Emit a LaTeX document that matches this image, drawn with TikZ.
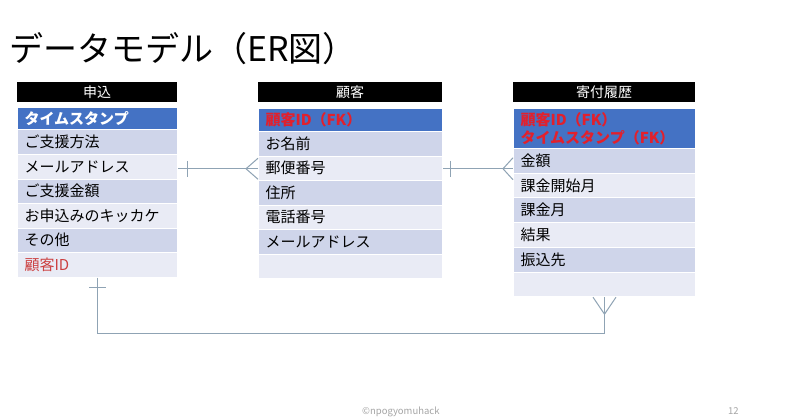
\documentclass[tikz,border=0pt]{standalone}
\usepackage{fontspec}
\usetikzlibrary{calc}
\setmainfont{Noto Sans CJK JP}
\begin{document}
\begin{tikzpicture}[x=1pt,y=-1pt]
\definecolor{hdrblue}{RGB}{68,114,196}
\definecolor{rowdark}{RGB}{207,213,234}
\definecolor{rowlight}{RGB}{233,235,245}
\definecolor{fkred}{RGB}{226,32,44}
\definecolor{idred}{RGB}{204,64,64}
\definecolor{conn}{RGB}{143,163,180}
\definecolor{foot}{RGB}{165,165,165}
\tikzset{
  hdr/.style={fill=black, text=white, inner xsep=0, inner ysep=0, minimum height=20, anchor=north west, align=center, font=\fontsize{14}{14}\selectfont},
  cell/.style={draw=white, line width=1, inner xsep=7, inner ysep=0, anchor=north west, align=left, font=\fontsize{15}{18}\selectfont},
  keycell/.style={cell, fill=hdrblue, font=\fontsize{15}{18}\bfseries\selectfont},
  dk/.style={cell, fill=rowdark},
  lt/.style={cell, fill=rowlight},
  wa/.style={text width=146pt},
  wb/.style={text width=170pt},
  wc/.style={text width=168pt},
  link/.style={draw=conn, line width=1},
}
\useasboundingbox (0,0) rectangle (800,417);
\fill[white] (0,0) rectangle (800,417);

% title
\node[anchor=base west, inner sep=0, font=\fontsize{34}{36}\selectfont] (title) at (9,62) {データモデル（ER図）};

% table 1
\node[hdr, minimum width=160] (ah) at (17,81.5) {申込};
\node[keycell, wa, minimum height=22, text=white] (a0) at (17,107.5) {タイムスタンプ};
\node[dk, wa, minimum height=24.5] (a1) at (17,129.5) {ご支援方法};
\node[lt, wa, minimum height=24.5] (a2) at (17,154) {メールアドレス};
\node[dk, wa, minimum height=24.5] (a3) at (17,178.5) {ご支援金額};
\node[lt, wa, minimum height=24.5] (a4) at (17,203) {お申込みのキッカケ};
\node[dk, wa, minimum height=24.5] (a5) at (17,227.5) {その他};
\node[lt, wa, minimum height=24.5, text=idred] (a6) at (17,252) {顧客ID};

% table 2
\node[hdr, minimum width=184] (bh) at (258,81.5) {顧客};
\node[keycell, wb, minimum height=23, text=fkred] (b0) at (258,108) {顧客ID（FK）};
\node[dk, wb, minimum height=24.5] (b1) at (258,131) {お名前};
\node[lt, wb, minimum height=24.5] (b2) at (258,155.5) {郵便番号};
\node[dk, wb, minimum height=24.5] (b3) at (258,180) {住所};
\node[lt, wb, minimum height=24.5] (b4) at (258,204.5) {電話番号};
\node[dk, wb, minimum height=24.5] (b5) at (258,229) {メールアドレス};
\node[lt, wb, minimum height=24.5] (b6) at (258,253.5) {};

% table 3
\node[hdr, minimum width=182] (ch) at (513,81.5) {寄付履歴};
\node[keycell, wc, minimum height=40, text=fkred] (c0) at (513,108) {顧客ID（FK）\\タイムスタンプ（FK）};
\node[dk, wc, minimum height=24.7] (c1) at (513,148) {金額};
\node[lt, wc, minimum height=24.7] (c2) at (513,172.7) {課金開始月};
\node[dk, wc, minimum height=24.7] (c3) at (513,197.4) {課金月};
\node[lt, wc, minimum height=24.7] (c4) at (513,222.1) {結果};
\node[dk, wc, minimum height=24.7] (c5) at (513,246.8) {振込先};
\node[lt, wc, minimum height=24.7] (c6) at (513,271.5) {};

% connector 申込 -> 顧客
\coordinate (p1) at ($(b2.west)+(0,0.5)$);
\path[link] (a2.east |- p1) -- (p1);
\path[link] ([xshift=9]a2.east |- p1) ++(0,-8) -- ++(0,16);
\path[link] ([xshift=-12]p1) -- ++(12,-10.5);
\path[link] ([xshift=-12]p1) -- ++(12,10.5);

% connector 顧客 -> 寄付履歴
\coordinate (p2) at (c1.west |- p1);
\path[link] (b2.east |- p1) -- (p2);
\path[link] ([xshift=7]b2.east |- p1) ++(0,-8) -- ++(0,16);
\path[link] ([xshift=-10]p2) -- ++(10,-11);
\path[link] ([xshift=-10]p2) -- ++(10,11);

% connector 申込 -> 寄付履歴 (bottom)
\path[link] (a6.south) -- ++(0,55.5) -| (c6.south);
\path[link] ([yshift=-10]a6.south) ++(-8.5,0) -- ++(17,0);
\path[link] ([yshift=-17]c6.south) -- ++(-11.5,-17);
\path[link] ([yshift=-17]c6.south) -- ++(11.5,-17);

% footer
\node[anchor=base west, inner sep=0, text=foot, font=\fontsize{9.5}{10}\selectfont] (credit) at (362,414) {©npogyomuhack};
\node[anchor=base west, inner sep=0, text=foot, font=\fontsize{9.5}{10}\selectfont] (page) at (728,414) {12};
\end{tikzpicture}
\end{document}
